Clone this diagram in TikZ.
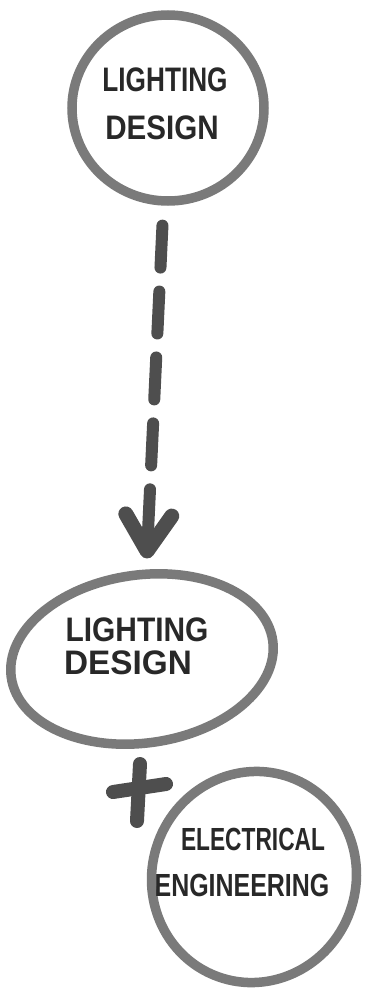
\documentclass[tikz,border=0pt]{standalone}
\usepackage{fontspec}
\usepackage{graphicx}
\setmainfont{Liberation Sans}
\usetikzlibrary{shapes.geometric,arrows.meta}
\definecolor{ring}{RGB}{122,122,122}
\definecolor{ink}{RGB}{40,40,40}
\definecolor{marker}{RGB}{78,78,78}
\begin{document}
\begin{tikzpicture}[x=1pt,y=-1pt,
  bubble/.style={ellipse,draw=ring,line width=9.5pt,inner sep=0pt},
  word/.style={text=ink,font=\fontsize{34}{34}\selectfont\bfseries,inner sep=0pt},
  flow/.style={draw=marker,line width=12pt,line cap=round,dash pattern=on 42pt off 24pt,
    -{Straight Barb[length=36pt,width=46pt,line width=15pt,round]}},
  plusbar/.style={draw=marker,line width=14pt,line cap=round}]
\useasboundingbox (0,0) rectangle (368,988);
% bubbles
\node[bubble,minimum width=192pt,minimum height=186pt] (e1) at (168,108) {};
\node[bubble,minimum width=264pt,minimum height=168pt,rotate=8] (e2) at (142,659) {};
\node[bubble,minimum width=204pt,minimum height=212pt,rotate=-20] (e3) at (254,877) {};
% texts
\node[word] (t1a) at (165,80) {\scalebox{0.77}[1]{LIGHTING}};
\node[word] (t1b) at (162,128) {\scalebox{0.87}[1]{DESIGN}};
\node[word] (t2a) at (137,630) {\scalebox{0.88}[1]{LIGHTING}};
\node[word] (t2b) at (128,663) {\scalebox{0.98}[1]{DESIGN}};
\node[word,font=\fontsize{32}{32}\selectfont\bfseries] (t3a) at (253,839) {\scalebox{0.71}[1]{ELECTRICAL}};
\node[word,font=\fontsize{32}{32}\selectfont\bfseries] (t3b) at (242,885) {\scalebox{0.78}[1]{ENGINEERING}};
% connector
\draw[flow,shorten <=20pt,shorten >=11pt] (e1) -- (e2);
% plus
\coordinate (p) at (139,791);
\draw[plusbar] (p) ++(1,-27) -- ++(-3,57);
\draw[plusbar] (p) ++(-26,1) -- ++(53,-8);
\end{tikzpicture}
\end{document}
